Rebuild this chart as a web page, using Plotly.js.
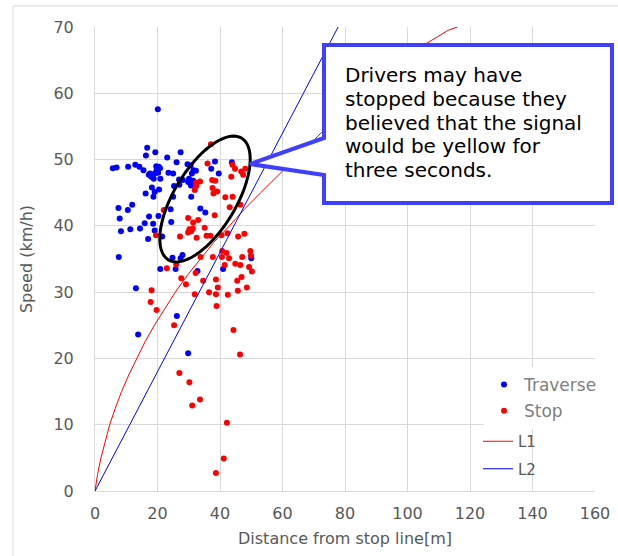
<!DOCTYPE html>
<html><head><meta charset="utf-8">
<script src="https://cdn.plot.ly/plotly-3.0.1.min.js"></script>
<style>html,body{margin:0;padding:0;background:#fff}</style>
</head><body><div id="chart" style="width:618px;height:556px"></div>
<script>
// ---- data ----
const traverseDist = [20.1,16.7,16.3,19.3,27.4,23.1,26.1,5.7,6.9,10.6,12.9,14.2,15.5,17.6,18.0,18.8,17.2,19.6,20.4,20.8,19.7,20.2,19.1,20.9,23.5,25.0,18.2,20.5,19.1,16.2,18.7,25.0,25.3,29.6,30.6,31.5,32.3,31.0,30.1,31.4,29.8,30.7,26.9,28.1,27.0,30.8,38.4,37.2,39.6,43.8,7.5,10.5,11.9,7.9,17.3,20.3,15.9,18.6,14.4,11.3,8.3,19.1,17.0,21.5,24.2,24.4,33.7,35.3,7.6,24.8,28.0,27.4,20.9,25.8,32.8,41.0,50.0,13.1,26.2,13.8,29.8];
const traverseSpeed = [57.6,51.8,50.6,51.1,51.1,50.3,49.6,48.7,48.8,48.9,49.2,48.9,48.4,47.9,47.4,47.1,47.7,49.0,48.9,48.7,48.4,48.0,47.9,47.1,48.0,47.9,45.8,45.5,45.1,44.9,44.4,44.4,46.0,49.3,49.1,48.4,48.3,47.9,47.1,46.8,46.6,46.1,47.0,46.9,46.2,44.4,49.7,48.6,47.9,49.6,42.7,42.4,43.2,41.1,41.4,41.5,40.4,40.3,39.6,39.5,39.2,39.3,38.0,38.4,42.5,40.6,42.6,42.0,35.3,35.2,35.6,35.1,33.5,33.5,33.2,33.5,35.1,30.6,26.4,23.6,20.8];
const stopDist = [37.1,36.0,44.0,44.8,46.8,48.1,47.4,33.6,32.3,37.5,38.5,43.6,31.9,32.4,37.6,39.1,37.9,41.7,44.0,43.1,46.5,22.0,38.3,31.4,33.0,29.8,30.2,30.8,31.3,29.8,27.2,35.1,32.5,35.7,36.9,42.4,45.8,47.8,40.5,19.5,33.8,40.7,42.1,42.9,47.1,49.7,49.9,41.5,44.9,46.5,49.3,50.2,23.0,26.0,32.2,27.6,29.1,38.7,39.3,36.5,38.7,42.5,45.5,46.9,48.6,45.7,31.9,34.6,38.9,18.1,17.8,19.7,25.3,44.3,46.4,27.0,30.2,33.6,31.1,42.2,41.2,38.7,37.7,40.6];
const stopSpeed = [52.3,49.4,49.2,48.6,48.2,48.6,47.7,46.7,46.5,46.9,46.8,47.4,45.4,46.0,45.7,45.2,44.9,44.3,44.4,42.8,43.2,42.4,41.6,40.5,40.9,41.2,39.5,39.2,39.6,39.0,38.4,39.7,38.2,38.5,38.5,38.9,38.4,38.8,38.6,38.6,35.3,36.2,35.9,35.1,35.3,36.2,35.5,34.1,34.3,34.1,33.8,33.1,33.6,34.2,32.9,32.1,31.2,31.9,30.7,30.0,29.7,29.6,31.7,32.3,30.7,30.2,29.7,31.7,27.9,30.3,28.5,27.3,25.0,24.3,20.6,17.8,16.4,13.8,12.9,10.3,4.9,2.7,35.3,35.3];
const l1Dist  = [0, 0.8, 1.9, 3.2, 4.7, 6.5, 8.5, 10.8, 13.3, 16.0, 19.0, 22.3, 25.7, 29.5, 33.6, 38.0, 43.0, 47.8, 53.0, 58.3, 63.6, 69.0, 74.5, 80.3, 86.3, 92.6, 99.0, 106.0, 113.0, 116.0];
const l1Speed = [0, 2.5, 5.0, 7.5, 10.0, 12.5, 15.0, 17.5, 20.0, 22.5, 25.0, 27.5, 30.0, 32.5, 35.0, 37.5, 40.0, 42.5, 45.0, 47.5, 50.0, 52.5, 55.0, 57.5, 60.0, 62.5, 65.0, 67.5, 69.5, 70.0];
const l2Dist  = [0, 77.8];
const l2Speed = [0, 70];
const xTickVals = [0,20,40,60,80,100,120,140,160];
const yTickVals = [0,10,20,30,40,50,60,70];
const seriesNames = ["Traverse","Stop","L1","L2"];
const calloutLines = ["Drivers may have","stopped because they","believed that the signal","would be yellow for","three seconds."];

// ---- layout geometry ----
const W = 618, H = 556;
const M = {l:95, r:23, t:27, b:65};
const PW = W - M.l - M.r, PH = H - M.t - M.b;
const px2x = p => (p - M.l) / PW;
const py2y = p => (H - M.b - p) / PH;
const pathFromPx = pts => pts.map((p,i)=>(i?'L':'M')+px2x(p[0]).toFixed(4)+','+py2y(p[1]).toFixed(4)).join(' ')+' Z';

// ellipse (pixel geometry)
const ell = {cx:205, cy:199, a:71, b:31, ang:59*Math.PI/180};
const ellPts = [];
for (let i=0;i<=96;i++){
  const t = i/96*2*Math.PI;
  const ex = ell.cx + ell.a*Math.cos(t)*Math.cos(ell.ang) - ell.b*Math.sin(t)*Math.sin(ell.ang);
  const ey = ell.cy - (ell.a*Math.cos(t)*Math.sin(ell.ang) + ell.b*Math.sin(t)*Math.cos(ell.ang));
  ellPts.push([ex,ey]);
}
const callPts = [[324,45],[612,45],[612,203],[324,203],[324,175],[250,164],[324,138]];

const FONT = 'DejaVu Sans, Verdana, sans-serif';

const traces = [
  {x:traverseDist, y:traverseSpeed, name:seriesNames[0], type:'scatter', mode:'markers',
   marker:{color:'#0000FF', size:6}, legend:'legend', legendgroup:'a'},
  {x:stopDist, y:stopSpeed, name:seriesNames[1], type:'scatter', mode:'markers',
   marker:{color:'#FF0000', size:6}, legend:'legend', legendgroup:'b'},
  {x:l1Dist, y:l1Speed, name:seriesNames[2], type:'scatter', mode:'lines',
   line:{color:'#FF0000', width:1}, legend:'legend2', legendgroup:'c'},
  {x:l2Dist, y:l2Speed, name:seriesNames[3], type:'scatter', mode:'lines',
   line:{color:'#0000FF', width:1}, legend:'legend2', legendgroup:'d'}
];

const annotations = calloutLines.map((s,i)=>({
  xref:'paper', yref:'paper', x:px2x(343), y:py2y(75 + i*23.8),
  xanchor:'left', yanchor:'middle', showarrow:false, text:s,
  font:{family:FONT, size:20, color:'#000000'}
}));

const layout = {
  width:W, height:H, margin:M,
  paper_bgcolor:'#ffffff', plot_bgcolor:'#ffffff',
  font:{family:FONT, color:'#595959'},
  xaxis:{range:[0,160], tickvals:xTickVals, showgrid:true, gridcolor:'#d9d9d9', gridwidth:1,
    zeroline:false, showline:true, linecolor:'#d9d9d9', ticks:'', ticklabelstandoff:8,
    tickfont:{family:FONT, size:16, color:'#595959'},
    title:{text:'Distance from stop line[m]', font:{family:FONT, size:16, color:'#595959'}, standoff:10}},
  yaxis:{range:[0,70], tickvals:yTickVals, showgrid:true, gridcolor:'#d9d9d9', gridwidth:1,
    zeroline:false, showline:true, linecolor:'#d9d9d9', ticks:'', ticklabelstandoff:17,
    tickfont:{family:FONT, size:16, color:'#595959'},
    title:{text:'Speed (km/h)', font:{family:FONT, size:16, color:'#595959'}, standoff:16}},
  legend:{x:px2x(484), y:py2y(367), xanchor:'left', yanchor:'top', bgcolor:'#ffffff',
    font:{family:FONT, size:17, color:'#808080'}, traceorder:'grouped', tracegroupgap:1, itemsizing:'trace'},
  legend2:{x:px2x(478), y:py2y(425), xanchor:'left', yanchor:'top', bgcolor:'rgba(0,0,0,0)',
    font:{family:FONT, size:15, color:'#595959'}, traceorder:'grouped', tracegroupgap:5},
  shapes:[
    {type:'path', xref:'paper', yref:'paper', path:pathFromPx(ellPts), line:{color:'#000000', width:3}, fillcolor:'rgba(0,0,0,0)', layer:'above'},
    {type:'path', xref:'paper', yref:'paper', path:pathFromPx(callPts), line:{color:'#3f3fff', width:4}, fillcolor:'#ffffff', layer:'above'},
    {type:'line', xref:'paper', yref:'paper', x0:px2x(13), x1:px2x(13), y0:py2y(6), y1:py2y(560), line:{color:'#d9d9d9', width:1}},
    {type:'line', xref:'paper', yref:'paper', x0:px2x(13), x1:px2x(620), y0:py2y(6), y1:py2y(6), line:{color:'#d9d9d9', width:1}}
  ],
  annotations:annotations
};

Plotly.newPlot('chart', traces, layout, {displayModeBar:false, staticPlot:true});
</script>
</body></html>
